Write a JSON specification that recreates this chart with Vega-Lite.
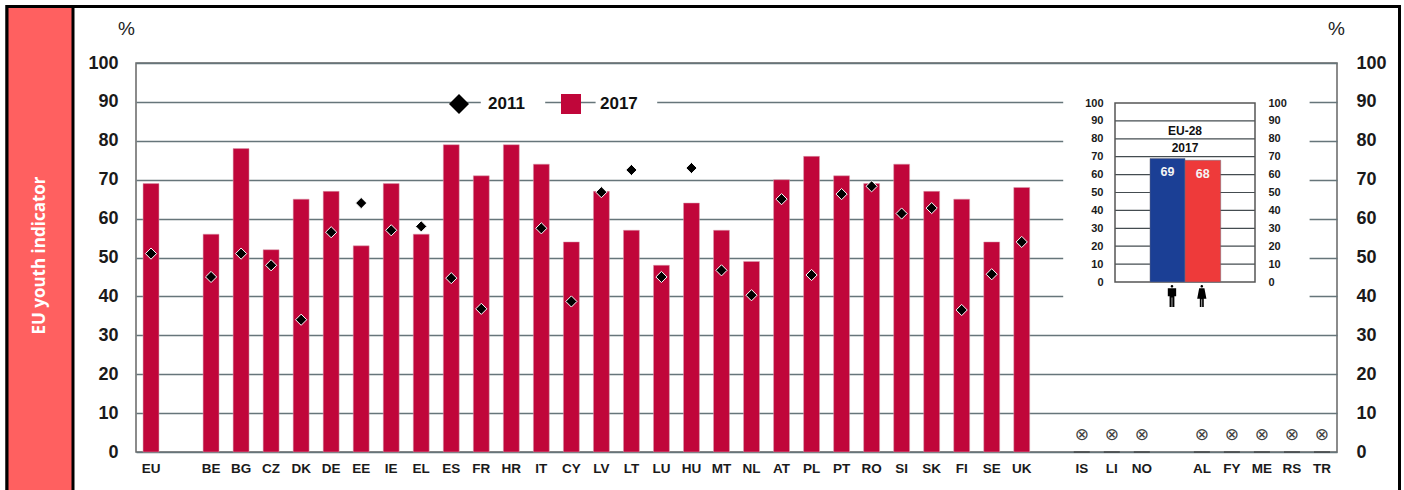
{"$schema":"https://vega.github.io/schema/vega-lite/v6.json","width":1201,"height":389,"autosize":"none","padding":{"left":136,"top":63,"right":67,"bottom":38},"background":"white","config":{"view":{"stroke":"#666666","strokeWidth":1.5},"axis":{"labelFontWeight":"bold","labelOverlap":false}},
"datasets":{
"y2017":[{"country":"EU","year":"2017","value":69},{"country":"BE","year":"2017","value":56},{"country":"BG","year":"2017","value":78},{"country":"CZ","year":"2017","value":52},{"country":"DK","year":"2017","value":65},{"country":"DE","year":"2017","value":67},{"country":"EE","year":"2017","value":53},{"country":"IE","year":"2017","value":69},{"country":"EL","year":"2017","value":56},{"country":"ES","year":"2017","value":79},{"country":"FR","year":"2017","value":71},{"country":"HR","year":"2017","value":79},{"country":"IT","year":"2017","value":74},{"country":"CY","year":"2017","value":54},{"country":"LV","year":"2017","value":67},{"country":"LT","year":"2017","value":57},{"country":"LU","year":"2017","value":48},{"country":"HU","year":"2017","value":64},{"country":"MT","year":"2017","value":57},{"country":"NL","year":"2017","value":49},{"country":"AT","year":"2017","value":70},{"country":"PL","year":"2017","value":76},{"country":"PT","year":"2017","value":71},{"country":"RO","year":"2017","value":69},{"country":"SI","year":"2017","value":74},{"country":"SK","year":"2017","value":67},{"country":"FI","year":"2017","value":65},{"country":"SE","year":"2017","value":54},{"country":"UK","year":"2017","value":68}],
"y2011":[{"country":"EU","year":"2011","value":51},{"country":"BE","year":"2011","value":45},{"country":"BG","year":"2011","value":51},{"country":"CZ","year":"2011","value":48},{"country":"DK","year":"2011","value":34},{"country":"DE","year":"2011","value":56.5},{"country":"EE","year":"2011","value":64},{"country":"IE","year":"2011","value":57},{"country":"EL","year":"2011","value":58},{"country":"ES","year":"2011","value":44.7},{"country":"FR","year":"2011","value":36.8},{"country":"IT","year":"2011","value":57.5},{"country":"CY","year":"2011","value":38.7},{"country":"LV","year":"2011","value":66.8},{"country":"LT","year":"2011","value":72.5},{"country":"LU","year":"2011","value":45},{"country":"HU","year":"2011","value":73},{"country":"MT","year":"2011","value":46.7},{"country":"NL","year":"2011","value":40.3},{"country":"AT","year":"2011","value":65},{"country":"PL","year":"2011","value":45.5},{"country":"PT","year":"2011","value":66.3},{"country":"RO","year":"2011","value":68.3},{"country":"SI","year":"2011","value":61.3},{"country":"SK","year":"2011","value":62.7},{"country":"FI","year":"2011","value":36.5},{"country":"SE","year":"2011","value":45.7},{"country":"UK","year":"2011","value":54}],
"nodata":[{"country":"IS","value":0,"marker":4.4,"label":"⊗"},{"country":"LI","value":0,"marker":4.4,"label":"⊗"},{"country":"NO","value":0,"marker":4.4,"label":"⊗"},{"country":"AL","value":0,"marker":4.4,"label":"⊗"},{"country":"FY","value":0,"marker":4.4,"label":"⊗"},{"country":"ME","value":0,"marker":4.4,"label":"⊗"},{"country":"RS","value":0,"marker":4.4,"label":"⊗"},{"country":"TR","value":0,"marker":4.4,"label":"⊗"}],
"ticks":[{"v":0},{"v":10},{"v":20},{"v":30},{"v":40},{"v":50},{"v":60},{"v":70},{"v":80},{"v":90},{"v":100}],
"unit":[{"a":0,"b":1,"c":0,"d":1,"mid":0.5,"name":"EU youth indicator"}],
"masks":[{"x0":-37,"x1":139,"y0":-13,"y1":104.5},{"x0":-453,"x1":-407,"y0":96,"y1":104.5},{"x0":-371,"x1":-327,"y0":96,"y1":104.5}],
"sex":[{"sex":"Men","x0":25,"x1":50,"xm":37.5,"value":69,"ly":61.5},{"sex":"Women","x0":50,"x1":75.5,"xm":62.7,"value":68,"ly":60.5}]
},
"resolve":{"scale":{"x":"independent","y":"independent","color":"independent"}},
"layer":[
{"data":{"name":"unit"},"mark":{"type":"rect","fill":null,"stroke":"black","strokeWidth":3},"encoding":{"x":{"field":"a","type":"quantitative","scale":{"domain":[0,1],"range":[-129,1263.5]},"axis":null},"x2":{"field":"b"},"y":{"field":"c","type":"quantitative","scale":{"domain":[0,1],"range":[445,-56.5]},"axis":null},"y2":{"field":"d"}}},
{"data":{"name":"unit"},"mark":{"type":"rect","fill":"#FF6060","stroke":"black","strokeWidth":3},"encoding":{"x":{"field":"a","type":"quantitative","scale":{"domain":[0,1],"range":[-129,-63]},"axis":null},"x2":{"field":"b"},"y":{"field":"c","type":"quantitative","scale":{"domain":[0,1],"range":[445,-56.5]},"axis":null},"y2":{"field":"d"}}},
{"data":{"name":"unit"},"mark":{"type":"text","color":"white","font":"Open Sans","fontWeight":"bold","fontSize":17,"angle":270,"align":"center","baseline":"middle"},"encoding":{"text":{"field":"name"},"x":{"field":"mid","type":"quantitative","scale":{"domain":[0,1],"range":[-129,-63]},"axis":null},"y":{"field":"mid","type":"quantitative","scale":{"domain":[0,1],"range":[445,-60]},"axis":null}}},
{"data":{"name":"ticks"},"mark":{"type":"rule","opacity":0},"encoding":{"y":{"field":"v","type":"quantitative","scale":{"domain":[0,100],"range":[389,0],"nice":false},"axis":{"orient":"left","values":[0,10,20,30,40,50,60,70,80,90,100],"title":"%","titleAngle":0,"titleX":-10,"titleY":-25,"titleFont":"Liberation Sans","titleFontSize":19,"titleFontWeight":"normal","titleColor":"#222222","domain":false,"ticks":false,"grid":true,"gridColor":"#66757a","gridWidth":1.5,"gridOpacity":1,"labelFont":"Liberation Sans","labelFontSize":18,"labelColor":"#1a1a1a","labelPadding":18}}}},
{"resolve":{"scale":{"color":"shared"}},"layer":[
{"data":{"name":"y2017"},"mark":{"type":"bar","stroke":"#d9a0b0","strokeWidth":0.5},"encoding":{"x":{"field":"country","type":"nominal","scale":{"domain":["EU"," ","BE","BG","CZ","DK","DE","EE","IE","EL","ES","FR","HR","IT","CY","LV","LT","LU","HU","MT","NL","AT","PL","PT","RO","SI","SK","FI","SE","UK","  ","IS","LI","NO","   ","AL","FY","ME","RS","TR"],"paddingInner":0.47,"paddingOuter":0.235},"axis":{"title":null,"orient":"bottom","labelAngle":0,"domain":false,"ticks":false,"labelFont":"Liberation Sans","labelFontSize":13.5,"labelColor":"#1a1a1a","labelPadding":9,"grid":false}},"y":{"field":"value","type":"quantitative","scale":{"domain":[0,100],"range":[389,0],"nice":false},"axis":null},"color":{"field":"year","type":"nominal","scale":{"domain":["2011","2017"],"range":["#000000","#C0063A"]},"legend":{"values":["2017"],"symbolType":"square","orient":"none","legendX":425,"legendY":31,"direction":"horizontal","title":null,"symbolSize":400,"symbolStrokeWidth":0,"labelFont":"Liberation Sans","labelFontWeight":"bold","labelFontSize":17,"labelColor":"#111111","labelOffset":19,"padding":0,"symbolOpacity":1}}}},
{"data":{"name":"y2011"},"mark":{"type":"point","filled":true,"stroke":"white","strokeWidth":1,"opacity":1},"encoding":{"x":{"field":"country","type":"nominal"},"y":{"field":"value","type":"quantitative","axis":null},"size":{"value":125},"color":{"field":"year","type":"nominal"},"shape":{"field":"year","type":"nominal","scale":{"domain":["2011","2017"],"range":["diamond","square"]},"legend":{"values":["2011"],"orient":"none","legendX":313,"legendY":31,"direction":"horizontal","title":null,"symbolSize":400,"symbolStrokeWidth":0,"labelFont":"Liberation Sans","labelFontWeight":"bold","labelFontSize":17,"labelColor":"#111111","labelOffset":19,"padding":0,"symbolOpacity":1}}}},
{"data":{"name":"nodata"},"mark":{"type":"tick","color":"#333333","thickness":1.5,"size":16},"encoding":{"x":{"field":"country","type":"nominal"},"y":{"field":"value","type":"quantitative","axis":null}}},
{"data":{"name":"nodata"},"mark":{"type":"text","font":"DejaVu Sans","fontSize":17,"color":"#444444"},"encoding":{"text":{"field":"label"},"x":{"field":"country","type":"nominal"},"y":{"field":"marker","type":"quantitative","axis":null}}}
]},
{"data":{"name":"ticks"},"mark":{"type":"rule","opacity":0},"encoding":{"y":{"field":"v","type":"quantitative","scale":{"domain":[0,100],"range":[389,0],"nice":false},"axis":{"orient":"right","values":[0,10,20,30,40,50,60,70,80,90,100],"title":"%","titleAngle":0,"titleX":-1,"titleY":-25,"titleFont":"Liberation Sans","titleFontSize":19,"titleFontWeight":"normal","titleColor":"#222222","domain":false,"ticks":false,"grid":false,"labelFont":"Liberation Sans","labelFontSize":18,"labelColor":"#1a1a1a","labelPadding":19}}}},
{"layer":[
{"data":{"name":"masks"},"mark":{"type":"rect","fill":"white"},"encoding":{"x":{"field":"x0","type":"quantitative","scale":{"domain":[0,100],"range":[979,1119],"nice":false,"zero":false},"axis":null},"x2":{"field":"x1"},"y":{"field":"y0","type":"quantitative","scale":{"domain":[0,100],"range":[219,40],"nice":false,"zero":false},"axis":null},"y2":{"field":"y1"}}},
{"data":{"name":"ticks"},"transform":[{"filter":"datum.v>0 && datum.v<100"}],"mark":{"type":"rule","color":"#444c50","strokeWidth":1.2},"encoding":{"y":{"field":"v","type":"quantitative","axis":null},"x":{"datum":0},"x2":{"datum":100}}},
{"data":{"name":"unit"},"mark":{"type":"rect","fill":null,"stroke":"#555555","strokeWidth":1.5},"encoding":{"x":{"datum":0},"x2":{"datum":100},"y":{"datum":0,"axis":null},"y2":{"datum":100}}},
{"data":{"name":"sex"},"mark":{"type":"bar","stroke":"#6a6a7a","strokeWidth":0.5},"encoding":{"x":{"field":"x0","type":"quantitative"},"x2":{"field":"x1"},"y":{"field":"value","type":"quantitative","axis":null},"y2":{"datum":0},"color":{"field":"sex","type":"nominal","scale":{"domain":["Men","Women"],"range":["#1B3F95","#EE3A3A"]},"legend":null}}},
{"data":{"name":"sex"},"mark":{"type":"text","font":"Liberation Sans","fontWeight":"bold","fontSize":12.5,"color":"#f4f4f4"},"encoding":{"text":{"field":"value"},"x":{"field":"xm","type":"quantitative"},"y":{"field":"ly","type":"quantitative","axis":null}}},
{"data":{"values":[{"t":"EU-28","x":50,"y":84.6},{"t":"2017","x":50,"y":74.6}]},"mark":{"type":"text","font":"Liberation Sans","fontWeight":"bold","fontSize":12,"color":"#111111"},"encoding":{"text":{"field":"t"},"x":{"field":"x","type":"quantitative"},"y":{"field":"y","type":"quantitative","axis":null}}},
{"data":{"values":[{"x":40.7,"y":-7.8}]},"mark":{"type":"point","filled":true,"color":"black","opacity":1,"size":484,"strokeWidth":0,"shape":"M-0.12,-0.88 a0.12,0.12 0 1 0 0.24,0 a0.12,0.12 0 1 0 -0.24,0 Z M-0.38,-0.7 H0.38 V0.02 H0.22 V1 H0.03 V0.15 H-0.03 V1 H-0.22 V0.02 H-0.38 Z"},"encoding":{"x":{"field":"x","type":"quantitative"},"y":{"field":"y","type":"quantitative","axis":null}}},
{"data":{"values":[{"x":62,"y":-7.8}]},"mark":{"type":"point","filled":true,"color":"black","opacity":1,"size":484,"strokeWidth":0,"shape":"M-0.12,-0.88 a0.12,0.12 0 1 0 0.24,0 a0.12,0.12 0 1 0 -0.24,0 Z M-0.24,-0.7 H0.24 L0.42,0.25 H0.18 V1 H0.03 V0.3 H-0.03 V1 H-0.18 V0.25 H-0.42 Z"},"encoding":{"x":{"field":"x","type":"quantitative"},"y":{"field":"y","type":"quantitative","axis":null}}}
]},
{"data":{"name":"ticks"},"mark":{"type":"rule","opacity":0},"encoding":{"y":{"field":"v","type":"quantitative","scale":{"domain":[0,100],"range":[219,40],"nice":false},"axis":{"orient":"left","offset":-979,"values":[0,10,20,30,40,50,60,70,80,90,100],"title":null,"domain":false,"ticks":false,"grid":false,"zindex":1,"labelFont":"Liberation Sans","labelFontSize":11,"labelColor":"#1a1a1a","labelPadding":12}}}},
{"data":{"name":"ticks"},"mark":{"type":"rule","opacity":0},"encoding":{"y":{"field":"v","type":"quantitative","scale":{"domain":[0,100],"range":[219,40],"nice":false},"axis":{"orient":"right","offset":-82,"values":[0,10,20,30,40,50,60,70,80,90,100],"title":null,"domain":false,"ticks":false,"grid":false,"zindex":1,"labelFont":"Liberation Sans","labelFontSize":11,"labelColor":"#1a1a1a","labelPadding":13}}}}
]}
